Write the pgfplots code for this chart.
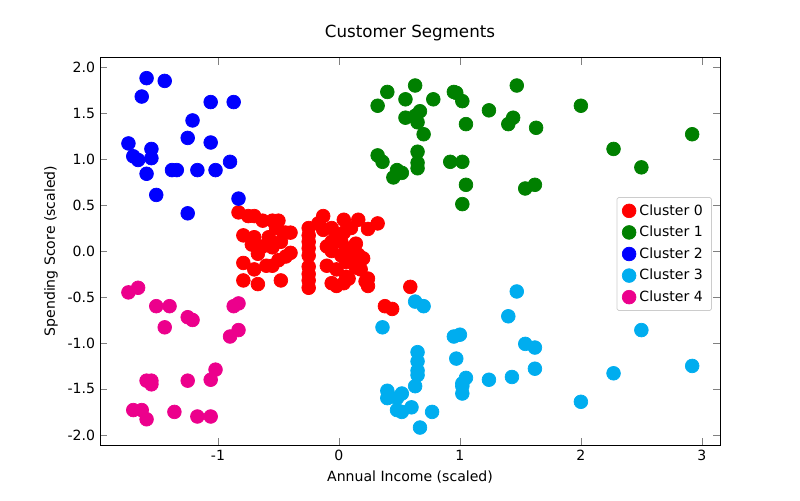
\documentclass[border=0pt]{standalone}
\usepackage{pgfplots}
\pgfplotsset{compat=1.18}
\usepackage{fontspec}
\setmainfont{DejaVu Sans}
\begin{document}
\fontsize{8}{10}\selectfont
\begin{tikzpicture}
\begin{axis}[scale only axis, width=12.4cm, height=7.76cm,
 xmin=-1.975, xmax=3.15, ymin=-2.11, ymax=2.11,
 xtick={-1,0,1,2,3}, ytick={-2,-1.5,-1,-0.5,0,0.5,1,1.5,2},
 yticklabel style={/pgf/number format/fixed,/pgf/number format/fixed zerofill,/pgf/number format/precision=1},
 /pgf/number format/assume math mode=true,
 tick label style={font=\fontsize{8}{10}\selectfont},
 title={\fontsize{9.5}{11}\selectfont Customer Segments},
 xlabel={Annual Income (scaled)}, ylabel={Spending Score (scaled)},
 legend style={at={(0.987,0.639)},anchor=north east,font=\fontsize{8}{10}\selectfont,draw=black!20,rounded corners=1pt,row sep=1pt},
 legend cell align=left,
 every axis plot/.append style={only marks, mark=*, mark size=3.9pt}]
\addplot[red, mark options={fill=red}] coordinates {(-0.83,0.42)(-0.75,0.38)(-0.70,0.38)(-0.63,0.33)(-0.55,0.33)(-0.50,0.33)(-0.79,0.17)(-0.79,-0.13)(-0.79,-0.32)(-0.72,0.07)(-0.70,0.15)(-0.67,-0.03)(-0.70,-0.20)(-0.67,-0.36)(-0.63,0.05)(-0.60,-0.16)(-0.58,0.15)(-0.55,0.04)(-0.55,-0.16)(-0.52,0.25)(-0.50,-0.10)(-0.48,0.10)(-0.46,0.20)(-0.44,-0.06)(-0.44,0.20)(-0.48,-0.32)(-0.40,0.20)(-0.25,0.25)(-0.25,0.17)(-0.25,0.10)(-0.25,0.03)(-0.25,-0.05)(-0.25,-0.17)(-0.25,-0.25)(-0.25,-0.32)(-0.25,-0.40)(-0.17,0.30)(-0.13,0.38)(-0.13,0.23)(-0.10,0.05)(-0.10,-0.16)(-0.06,0.25)(-0.06,0.10)(-0.06,0.00)(-0.06,-0.35)(-0.02,0.17)(-0.02,-0.20)(-0.02,-0.38)(0.02,0.10)(0.02,-0.05)(0.04,0.34)(0.04,0.20)(0.04,-0.35)(0.06,0.03)(0.06,-0.12)(0.06,-0.28)(0.08,-0.30)(0.10,0.25)(0.10,-0.05)(0.12,0.00)(0.14,-0.18)(0.16,0.34)(0.16,-0.04)(0.18,-0.20)(0.20,-0.08)(0.22,-0.33)(0.24,0.24)(0.24,-0.30)(0.24,-0.38)(0.32,0.30)(0.38,-0.60)(0.44,-0.63)(0.59,-0.39)(-0.40,-0.02)(0.14,0.08)};
\addlegendentry{Cluster 0}
\addplot[green!50!black, mark options={fill=green!50!black}] coordinates {(0.32,1.58)(0.40,1.73)(0.63,1.80)(0.55,1.65)(0.95,1.73)(0.32,1.04)(0.36,0.97)(0.45,0.80)(0.48,0.88)(0.52,0.85)(0.63,1.47)(0.55,1.45)(0.65,1.40)(0.70,1.27)(0.67,1.52)(0.78,1.65)(0.65,1.08)(0.65,0.96)(0.65,0.90)(0.92,0.97)(1.02,0.97)(1.02,0.51)(1.05,0.72)(1.05,1.38)(0.97,1.72)(1.02,1.63)(1.24,1.53)(1.47,1.80)(1.40,1.38)(1.44,1.45)(1.63,1.34)(1.54,0.68)(1.62,0.72)(2.00,1.58)(2.27,1.11)(2.50,0.91)(2.92,1.27)};
\addlegendentry{Cluster 1}
\addplot[blue, mark options={fill=blue}] coordinates {(-1.59,1.88)(-1.44,1.85)(-1.63,1.68)(-1.21,1.42)(-1.06,1.62)(-0.87,1.62)(-1.74,1.17)(-1.70,1.03)(-1.66,0.99)(-1.55,1.11)(-1.55,1.01)(-1.59,0.84)(-1.25,1.23)(-1.06,1.18)(-1.38,0.88)(-1.34,0.88)(-1.17,0.88)(-1.02,0.88)(-0.90,0.97)(-1.51,0.61)(-1.25,0.41)(-0.83,0.57)};
\addlegendentry{Cluster 2}
\addplot[cyan, mark options={fill=cyan}] coordinates {(0.36,-0.83)(0.40,-1.52)(0.40,-1.60)(0.48,-1.60)(0.48,-1.73)(0.52,-1.55)(0.52,-1.75)(0.60,-1.70)(0.63,-0.55)(0.70,-0.60)(0.65,-1.10)(0.65,-1.20)(0.65,-1.30)(0.65,-1.35)(0.63,-1.47)(0.67,-1.92)(0.77,-1.75)(0.95,-0.93)(1.00,-0.91)(0.97,-1.17)(1.02,-1.44)(1.05,-1.38)(1.02,-1.55)(1.02,-1.47)(1.24,-1.40)(1.40,-0.71)(1.47,-0.44)(1.43,-1.37)(1.54,-1.01)(1.62,-1.05)(1.62,-1.28)(2.00,-1.64)(2.27,-1.33)(2.50,-0.86)(2.92,-1.25)};
\addlegendentry{Cluster 3}
\addplot[magenta, mark options={fill=magenta}] coordinates {(-1.74,-0.45)(-1.66,-0.40)(-1.70,-1.73)(-1.63,-1.73)(-1.51,-0.60)(-1.40,-0.60)(-1.44,-0.83)(-1.25,-0.72)(-1.21,-0.75)(-1.55,-1.41)(-1.59,-1.41)(-1.55,-1.45)(-1.59,-1.83)(-1.36,-1.75)(-1.25,-1.41)(-1.17,-1.80)(-1.06,-1.80)(-1.06,-1.40)(-1.02,-1.29)(-0.90,-0.93)(-0.87,-0.60)(-0.83,-0.57)(-0.83,-0.86)};
\addlegendentry{Cluster 4}
\end{axis}
\pgfresetboundingbox
\path ([shift={(-2cm,-1.1cm)}]current axis.south west) rectangle ([shift={(1.6cm,1.14cm)}]current axis.north east);
\end{tikzpicture}
\end{document}
